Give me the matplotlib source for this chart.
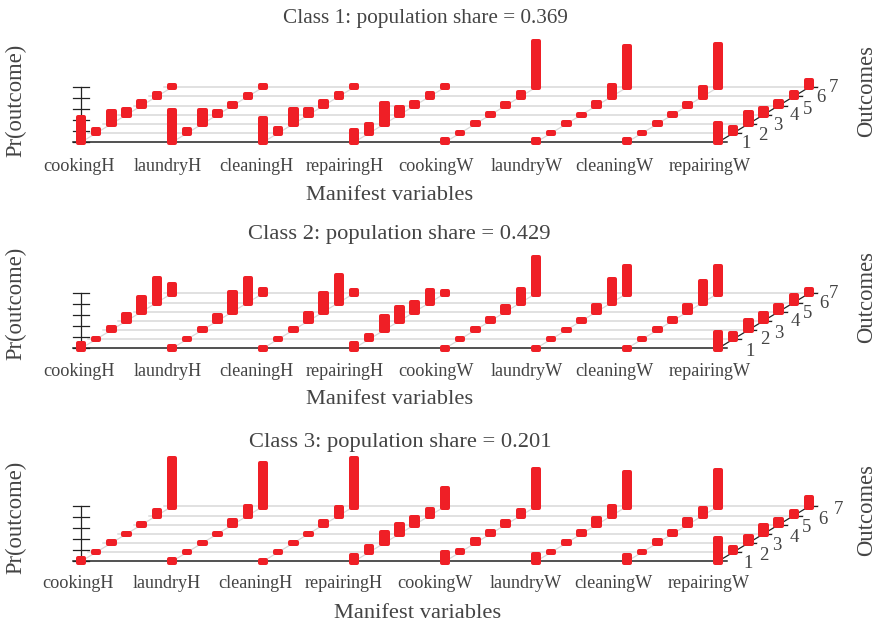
import matplotlib
matplotlib.use("Agg")
from matplotlib import pyplot as plt

variables = ["cookingH", "laundryH", "cleaningH", "repairingH",
             "cookingW", "laundryW", "cleaningW", "repairingW"]
outcomes = ["1", "2", "3", "4", "5", "6", "7"]
shares = ["0.369", "0.429", "0.201"]

# Pr(outcome), one row per manifest variable
class1 = [
    [.44, .055, .22, .085, .06, .05, .02],
    [.575, .05, .23, .055, .03, .025, .02],
    [.43, .08, .26, .085, .065, .035, .02],
    [.20, .15, .36, .13, .055, .035, .02],
    [.04, .0, .02, .005, .035, .065, .83],
    [.04, .005, .02, .0, .055, .195, .73],
    [.04, .0, .02, .005, .035, .15, .76],
    [.33, .10, .205, .10, .065, .065, .115],
]
class2 = [
    [.07, .005, .035, .10, .255, .42, .145],
    [.025, .01, .01, .085, .33, .435, .06],
    [.0, .005, .01, .13, .32, .48, .05],
    [.07, .06, .23, .23, .165, .205, .025],
    [.01, .01, .01, .025, .08, .225, .65],
    [.01, .005, .005, .02, .10, .40, .47],
    [.005, .0, .025, .03, .10, .38, .48],
    [.27, .10, .17, .13, .10, .11, .065],
]
class3 = [
    [.05, .005, .01, .005, .02, .085, .865],
    [.03, .01, .005, .005, .07, .16, .775],
    [.0, .005, .005, .005, .055, .14, .86],
    [.10, .09, .18, .165, .115, .10, .32],
    [.145, .025, .055, .025, .055, .08, .665],
    [.11, .005, .025, .03, .10, .16, .61],
    [.10, .0, .03, .04, .09, .115, .64],
    [.40, .08, .10, .145, .085, .065, .145],
]
classes = [class1, class2, class3]

# layout, in pixels of the 878x625 picture
W, H = 878, 625
X0 = 81
X_UNIT = 91
Y_UNIT = 55
baselines = [142.3, 348.4, 561.4]
title_pos = [(425, 18.5), (399, 234.5), (400, 442.5)]
title_size = [15.3, 16.2, 16.2]
xlabel_pos = [(390, 196), (390, 400), (418, 614)]
ylabel_y = [100, 303, 517]
outlabel_y = [91, 297, 510]
tick_y = [166, 371, 583]
tick_x = [78.5, 168, 256, 345, 436, 526.5, 614, 710]
tick_shift = [0, 0, -1]
outcome_pos = [
    [(746, 143), (763, 135), (778, 126), (794, 116), (808, 109), (821, 98), (833, 87)],
    [(750, 352), (765, 340), (779, 333), (795, 322), (808, 314), (824, 304), (833, 293)],
    [(748, 563), (764, 555), (777, 546), (794, 537), (807, 528), (823, 519), (838, 509)],
]

RED = "#ef1f26"
TEXT = "#444444"
GRID = "#d9d9d9"
AXIS = "#222222"

plt.rcParams["font.family"] = ["Liberation Serif", "DejaVu Serif"]
fig = plt.figure(figsize=(W / 100, H / 100), dpi=100)


def put(x, y, s, size, **kw):
    fig.text(x / W, 1 - y / H, s, fontsize=size, color=TEXT, ha="center", va="center", **kw)


for c, probs in enumerate(classes):
    base = baselines[c]
    ax = fig.add_axes([0, 0, 1, 1])
    ax.patch.set_alpha(0)
    ax.axis("off")
    ax.set_xlim(-X0 / X_UNIT, (W - X0) / X_UNIT)
    ax.set_ylim((base - H) / Y_UNIT, base / Y_UNIT)

    n = len(variables)
    depth = len(outcomes) - 1
    left = -8 / X_UNIT
    right = n - 1 + 9 / X_UNIT

    # floor grid, one line per outcome
    for k in range(1, depth + 1):
        ax.plot([left + k / depth, right + k / depth], [k / depth, k / depth],
                color=GRID, lw=1.1, zorder=1)
    # diagonals running back through the outcomes
    for j in range(n - 1):
        ax.plot([j, j + 1], [0, 1], color=GRID, lw=0.9, zorder=1)

    # box edges
    ax.plot([left, right], [0, 0], color=AXIS, lw=1.1, zorder=2)
    ax.plot([n - 1, n], [0, 1], color=AXIS, lw=0.9, zorder=2)
    ax.plot([0, 0], [0, 1], color=AXIS, lw=0.9, zorder=2)
    for t in range(6):
        ax.plot([left, -left], [t / 5, t / 5], color=AXIS, lw=0.9, zorder=2)
    for k in range(1, depth + 1):
        ax.plot([n - 1 + k / depth, n - 1 + k / depth - left], [k / depth, k / depth],
                color=AXIS, lw=0.9, zorder=2)

    # bars
    pad = 1.1 / Y_UNIT
    for j, row in enumerate(probs):
        for k, p in enumerate(row):
            ax.bar(j + k / depth, p + 2 * pad, width=6.4 / X_UNIT, bottom=k / depth - pad,
                   color=RED, edgecolor=RED, linewidth=2.88, joinstyle="round", zorder=3)

    # text
    put(*title_pos[c], "Class %d: population share = %s" % (c + 1, shares[c]), title_size[c])
    put(*xlabel_pos[c], "Manifest variables", 16.2)
    put(16, ylabel_y[c], "Pr(outcome)", 16.3, rotation=90)
    put(867, outlabel_y[c], "Outcomes", 16.3, rotation=90)
    for name, x in zip(variables, tick_x):
        put(x + tick_shift[c], tick_y[c], name, 13.1)
    for s, (x, y) in zip(outcomes, outcome_pos[c]):
        put(x, y, s, 13.5)

fig.savefig("out.png", dpi=100)
